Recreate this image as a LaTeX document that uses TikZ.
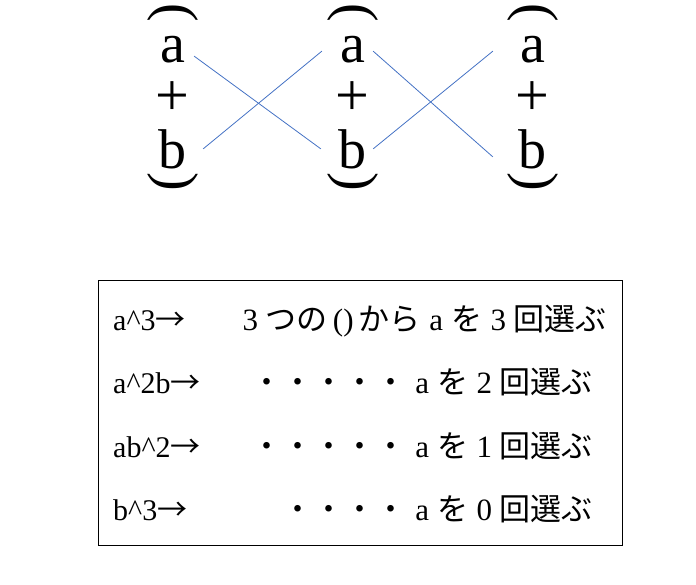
\documentclass[tikz,border=0pt]{standalone}
\usepackage{fontspec}
\setmainfont{Liberation Serif}
\newfontfamily\jp{Noto Sans CJK JP}
\definecolor{linkblue}{RGB}{68, 114, 196}
\usepackage{tikz}
\usetikzlibrary{positioning, calc}
\newcommand\hw[1]{\makebox[1em]{\rmfamily #1}}
\newcommand\toarrow{{\jp →}}
\tikzset{
    letter/.style={inner sep=0pt, anchor=base, font=\fontsize{56}{56}\selectfont},
    plus/.style={inner sep=0pt, anchor=base, font=\fontsize{60}{60}\selectfont},
    brace/.style={inner sep=0pt, rotate=-90, font=\fontsize{56}{56}\selectfont},
    cross/.style={draw=linkblue, line width=0.8pt},
    frame/.style={rectangle, draw=black, line width=0.8pt, inner sep=0pt},
    power/.style={inner sep=0pt, anchor=base west, font=\fontsize{30}{30}\selectfont},
    choice/.style={inner sep=0pt, anchor=base east, font=\fontsize{31}{31}\selectfont\jp}
}

\begin{document}
\begin{tikzpicture}[x=1pt, y=1pt]
        \useasboundingbox (0,0) rectangle (696,-584);

        % Three factors (a+b)
        \node[brace] (o1) at (172.5,-12.5) {(};
        \node[letter] (a1) at (172.5,-62) {a};
        \node[plus] (p1) at (172.5,-115) {+};
        \node[letter] (b1) at (172.5,-168) {b};
        \node[brace] (c1) at (172.5,-181.5) {)};

        \node[brace] (o2) at (352.5,-12.5) {(};
        \node[letter] (a2) at (352.5,-62) {a};
        \node[plus] (p2) at (352.5,-115) {+};
        \node[letter] (b2) at (352.5,-168) {b};
        \node[brace] (c2) at (352.5,-181.5) {)};

        \node[brace] (o3) at (532.5,-12.5) {(};
        \node[letter] (a3) at (532.5,-62) {a};
        \node[plus] (p3) at (532.5,-115) {+};
        \node[letter] (b3) at (532.5,-168) {b};
        \node[brace] (c3) at (532.5,-181.5) {)};

        % Crossing lines
        \draw[cross] ([shift={(9,-7)}]a1.east) -- ([shift={(-17.5,0)}]b2.west);
        \draw[cross] ([shift={(16.5,0)}]b1.east) -- ([shift={(-18,-2)}]a2.west);
        \draw[cross] ([shift={(8,-2)}]a2.east) -- ([shift={(-25.5,-8)}]b3.west);
        \draw[cross] ([shift={(6.5,0)}]b2.east) -- ([shift={(-27,-2)}]a3.west);

        % Table of terms
        \node[frame, minimum width=524pt, minimum height=265pt] (table) at (360,-412.5) {};
        \node[power] (t1) at (113,-330) {a\^{}3\toarrow};
        \node[power] (t2) at (113,-393) {a\^{}2b\toarrow};
        \node[power] (t3) at (113,-457) {ab\^{}2\toarrow};
        \node[power] (t4) at (113,-520) {b\^{}3\toarrow};
        \node[choice] (r1) at (607,-330) {\hw{3}つの\hw{()}から\hw{a}を\hw{3}回選ぶ};
        \node[choice] (r2) at (593,-393) {・・・・・\hw{a}を\hw{2}回選ぶ};
        \node[choice] (r3) at (593,-457) {・・・・・\hw{a}を\hw{1}回選ぶ};
        \node[choice] (r4) at (593,-520) {・・・・\hw{a}を\hw{0}回選ぶ};
    \end{tikzpicture}
\end{document}
